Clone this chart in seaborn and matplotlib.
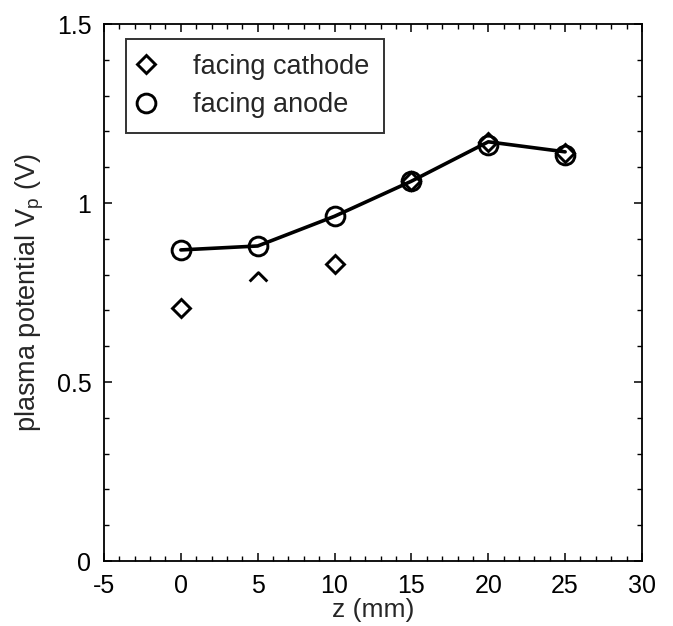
import matplotlib
matplotlib.use("Agg")
import matplotlib.pyplot as plt
import seaborn as sns
import pandas as pd
import numpy as np
from matplotlib.ticker import MultipleLocator
from matplotlib.path import Path

z_mm = [0, 5, 10, 15, 20, 25]
cathode_vp = [0.708, 0.781, 0.831, 1.061, 1.171, 1.141]
anode_vp = [0.869, 0.880, 0.963, 1.061, 1.162, 1.134]
line_vp = [0.869, 0.880, 0.963, 1.061, 1.171, 1.143]
# the cathode point at z = 5 mm is only partly visible (upper half) in the original
cathode_partial = [False, True, False, False, False, False]

sns.set_style("ticks")
plt.rcParams['font.family'] = ['Liberation Sans', 'DejaVu Sans']
plt.rcParams['mathtext.fontset'] = 'custom'
plt.rcParams['mathtext.rm'] = 'Liberation Sans'
plt.rcParams['mathtext.it'] = 'Liberation Sans'
plt.rcParams['axes.unicode_minus'] = False

fig = plt.figure(figsize=(6.73, 6.26), dpi=100)
ax = fig.add_axes([0.1545, 0.1038, 0.7994, 0.8578])

df_line = pd.DataFrame({"z": z_mm, "v": line_vp})
sns.lineplot(data=df_line, x="z", y="v", ax=ax, color="black", lw=2.6, legend=False)

z_arr = np.array(z_mm)
c_arr = np.array(cathode_vp)
mask = np.array(cathode_partial)
ax.plot(z_arr[~mask], c_arr[~mask], ls="none", marker="D", ms=9, mfc="none",
        mec="black", mew=2.1, label="facing cathode")
caret = Path([(-1, 0), (0, 1), (1, 0)], [Path.MOVETO, Path.LINETO, Path.LINETO])
ax.plot(z_arr[mask], c_arr[mask], ls="none", marker=caret, ms=12.7, mfc="none",
        mec="black", mew=2.1)
ax.plot(z_mm, anode_vp, ls="none", marker="o", ms=13.5, mfc="none", mec="black",
        mew=2.1, label="facing anode")

ax.set_xlim(-5, 30)
ax.set_ylim(0, 1.5)
ax.xaxis.set_major_locator(MultipleLocator(5))
ax.xaxis.set_minor_locator(MultipleLocator(1))
ax.yaxis.set_major_locator(MultipleLocator(0.5))
ax.yaxis.set_minor_locator(MultipleLocator(0.1))
ax.set_yticks([0, 0.5, 1, 1.5])
ax.set_yticklabels(["0", "0.5", "1", "1.5"])
ax.tick_params(which="both", direction="in", top=True, right=True, colors="black",
               labelsize=18, pad=9)
ax.tick_params(which="major", length=6, width=1.1)
ax.tick_params(which="minor", length=3.3, width=1.0)
for s in ax.spines.values():
    s.set_linewidth(1.3)
    s.set_color("black")

ax.set_xlabel("z (mm)", fontsize=19, labelpad=0)
ax.set_ylabel("plasma potential V$_\\mathregular{p}$ (V)", fontsize=19.5, labelpad=8)

leg = ax.legend(loc="upper left", bbox_to_anchor=(0.0409, 0.972), borderaxespad=0,
                fontsize=19.5, frameon=True, fancybox=False, edgecolor="black",
                handlelength=0.37, handletextpad=1.55, borderpad=0.55,
                labelspacing=0.45)
leg.get_frame().set_linewidth(1.4)

fig.savefig("out.png", dpi=100, facecolor="white")
